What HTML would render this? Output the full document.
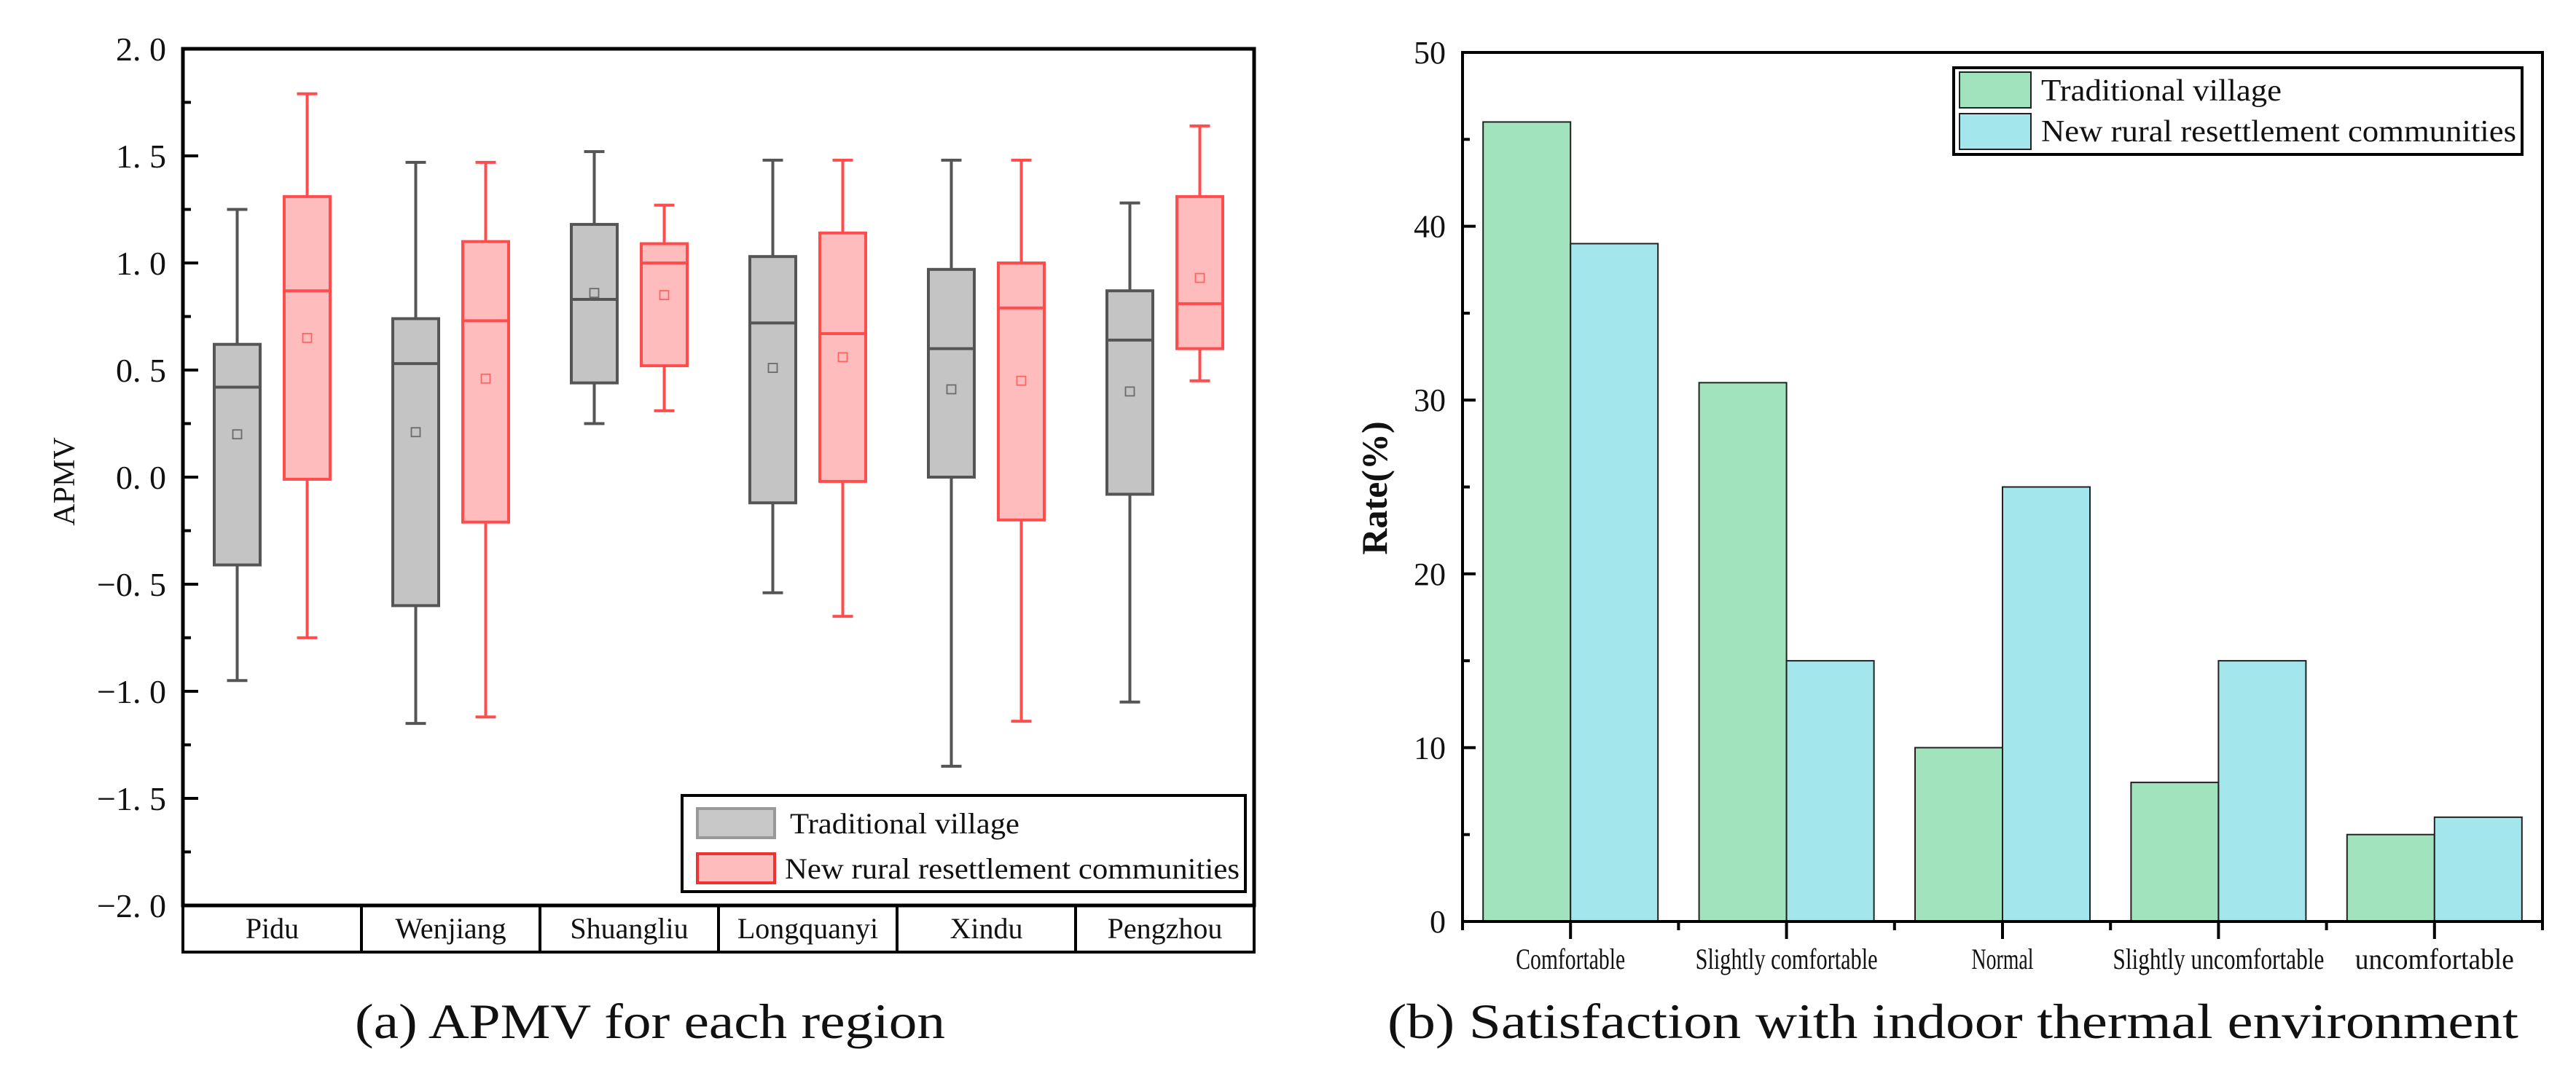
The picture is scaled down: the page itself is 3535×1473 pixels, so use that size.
<!DOCTYPE html>
<html><head><meta charset="utf-8"><style>
html,body{margin:0;padding:0;background:#fff;}
svg{display:block;}
text{font-family:"Liberation Serif","Noto Serif CJK SC",serif;fill:#111;}
</style></head><body>
<svg id="fig" width="3535" height="1473" viewBox="0 0 3535 1473" xmlns="http://www.w3.org/2000/svg">
<g id="left"></g>
<g id="right"></g>
<text x="892" y="1425" font-size="68" text-anchor="middle" textLength="810" lengthAdjust="spacingAndGlyphs">(a) APMV for each region</text>
<text x="2680" y="1425" font-size="68" text-anchor="middle" textLength="1552" lengthAdjust="spacingAndGlyphs">(b) Satisfaction with indoor thermal environment</text>
</svg>
<script>
// ---- Box plot data ----
const regions = ["Pidu","Wenjiang","Shuangliu","Longquanyi","Xindu","Pengzhou"];
const tradMax = [1.25,1.47,1.52,1.48,1.48,1.28];
const tradQ3 = [0.62,0.74,1.18,1.03,0.97,0.87];
const tradMed = [0.42,0.53,0.83,0.72,0.60,0.64];
const tradQ1 = [-0.41,-0.60,0.44,-0.12,0.00,-0.08];
const tradMin = [-0.95,-1.15,0.25,-0.54,-1.35,-1.05];
const tradMean = [0.20,0.21,0.86,0.51,0.41,0.40];
const newMax = [1.79,1.47,1.27,1.48,1.48,1.64];
const newQ3 = [1.31,1.10,1.09,1.14,1.00,1.31];
const newMed = [0.87,0.73,1.00,0.67,0.79,0.81];
const newQ1 = [-0.01,-0.21,0.52,-0.02,-0.20,0.60];
const newMin = [-0.75,-1.12,0.31,-0.65,-1.14,0.45];
const newMean = [0.65,0.46,0.85,0.56,0.45,0.93];
const apmvTicks = ["2. 0","1. 5","1. 0","0. 5","0. 0","−0. 5","−1. 0","−1. 5","−2. 0"];
const apmvTickVals = [2,1.5,1,0.5,0,-0.5,-1,-1.5,-2];
// ---- Bar data ----
const levels = ["Comfortable","Slightly comfortable","Normal","Slightly uncomfortable","uncomfortable"];
const tradRate = [46,31,10,8,5];
const newRate = [39,15,25,15,6];
const rateTicks = ["0","10","20","30","40","50"];
const rateTickVals = [0,10,20,30,40,50];

const NS="http://www.w3.org/2000/svg";
function mk(parent,tag,attrs,txt){const e=document.createElementNS(NS,tag);for(const k in attrs)e.setAttribute(k,attrs[k]);if(txt!==undefined)e.textContent=txt;parent.appendChild(e);return e;}

// ===== Left chart =====
const L=document.getElementById('left');
const lx0=251,lx1=1721,ly0=67,ly1=1243;
const yA=v=>ly0+(2-v)*(ly1-ly0)/4;
const catW=(lx1-lx0)/regions.length;
const cx=i=>lx0+catW*(i+0.5);
// y ticks
for(let v=-2;v<=2.001;v+=0.25){
  const major=Math.abs(v*2-Math.round(v*2))<1e-6;
  const t=mk(L,'line',{x1:lx0,x2:lx0+(major?21:11),y1:yA(v),y2:yA(v),stroke:'#000','stroke-width':4});
  
  
}
apmvTicks.forEach((s,i)=>{
  const t=mk(L,'text',{x:228,y:yA(apmvTickVals[i])+16,'font-size':46,'text-anchor':'end'},s);
  
  
});
const yt=mk(L,'text',{x:0,y:0,'font-size':42,'text-anchor':'middle',transform:'translate(102,661) rotate(-90)'},'APMV');


// boxes
function drawBox(i,off,mx,q3,md,q1,mn,mean,fill,stroke,nm){
  const g=mk(L,'g',{});
  
  
  const c=cx(i)+off,w=63,cw=28;
  mk(g,'line',{x1:c,x2:c,y1:yA(mx),y2:yA(q3),stroke:stroke,'stroke-width':4});
  mk(g,'line',{x1:c,x2:c,y1:yA(q1),y2:yA(mn),stroke:stroke,'stroke-width':4});
  mk(g,'line',{x1:c-cw/2,x2:c+cw/2,y1:yA(mx),y2:yA(mx),stroke:stroke,'stroke-width':4});
  mk(g,'line',{x1:c-cw/2,x2:c+cw/2,y1:yA(mn),y2:yA(mn),stroke:stroke,'stroke-width':4});
  mk(g,'rect',{x:c-w/2,y:yA(q3),width:w,height:yA(q1)-yA(q3),fill:fill,stroke:stroke,'stroke-width':4});
  mk(g,'line',{x1:c-w/2,x2:c+w/2,y1:yA(md),y2:yA(md),stroke:stroke,'stroke-width':4});
  mk(g,'rect',{x:c-6,y:yA(mean)-6,width:12,height:12,fill:'none',stroke:stroke,'stroke-width':1.8,opacity:0.8});
}
regions.forEach((r,i)=>{
  drawBox(i,-48,tradMax[i],tradQ3[i],tradMed[i],tradQ1[i],tradMin[i],tradMean[i],'#c4c4c4','#555','trad-box');
  drawBox(i,48,newMax[i],newQ3[i],newMed[i],newQ1[i],newMin[i],newMean[i],'#ffbcbc','#ff4d4d','new-box');
});
// frame
const fr=mk(L,'rect',{x:lx0,y:ly0,width:lx1-lx0,height:ly1-ly0,fill:'none',stroke:'#000','stroke-width':5});


// category row
const cr=mk(L,'rect',{x:lx0,y:ly1,width:lx1-lx0,height:64,fill:'none',stroke:'#000','stroke-width':4});


regions.forEach((r,i)=>{
  if(i>0){const d=mk(L,'line',{x1:lx0+catW*i,x2:lx0+catW*i,y1:ly1,y2:ly1+64,stroke:'#000','stroke-width':4});
    
    }
  const t=mk(L,'text',{x:cx(i),y:ly1+45,'font-size':40,'text-anchor':'middle'},r);
  
  
});
// legend
const lg=mk(L,'g',{});


mk(lg,'rect',{x:936,y:1092,width:773,height:132,fill:'#fff',stroke:'#000','stroke-width':4});
mk(lg,'rect',{x:957,y:1110,width:106,height:40,fill:'#c8c8c8',stroke:'#999','stroke-width':4});
mk(lg,'rect',{x:957,y:1172,width:106,height:40,fill:'#ffbcbc',stroke:'#ee3333','stroke-width':4});
mk(lg,'text',{x:1084,y:1144,'font-size':40,textLength:315,lengthAdjust:'spacingAndGlyphs'},'Traditional village');
mk(lg,'text',{x:1077,y:1206,'font-size':40,textLength:624,lengthAdjust:'spacingAndGlyphs'},'New rural resettlement communities');

// ===== Right chart =====
const R=document.getElementById('right');
const rx0=2007,rx1=3489,ry0=72,ry1=1265;
const yB=v=>ry1-v*(ry1-ry0)/50;
const gW=(rx1-rx0)/levels.length;
const bx=i=>rx0+gW*(i+0.5);
const bw=120;
levels.forEach((l,i)=>{
  const g=mk(R,'rect',{x:bx(i)-bw,y:yB(tradRate[i]),width:bw,height:yB(0)-yB(tradRate[i]),fill:'#a0e3bc',stroke:'#222','stroke-width':2});
  
  
  const b=mk(R,'rect',{x:bx(i),y:yB(newRate[i]),width:bw,height:yB(0)-yB(newRate[i]),fill:'#a3e6ec',stroke:'#222','stroke-width':2});
  
  
  const t=mk(R,'text',{x:bx(i),y:1330,'font-size':40,'text-anchor':'middle',textLength:(i==3?290:(i==1?250:(i==4?218:(i==2?85:150)))),lengthAdjust:'spacingAndGlyphs'},l);
  
  
});
// y ticks
for(let v=0;v<=50;v+=5){
  const major=v%10===0;
  const t=mk(R,'line',{x1:rx0,x2:rx0+(major?18:10),y1:yB(v),y2:yB(v),stroke:'#000','stroke-width':4});
  
  
}
rateTicks.forEach((s,i)=>{
  const t=mk(R,'text',{x:1984,y:yB(rateTickVals[i])+15,'font-size':44,'text-anchor':'end'},s);
  
  
});
// x ticks
for(let k=0;k<=levels.length*2;k++){
  const x=rx0+gW*k/2;const major=k%2===1;
  const t=mk(R,'line',{x1:x,x2:x,y1:ry1,y2:ry1+(major?24:12),stroke:'#000','stroke-width':4});
  
  
}
const rf=mk(R,'rect',{x:rx0,y:ry0,width:rx1-rx0,height:ry1-ry0,fill:'none',stroke:'#000','stroke-width':4});


const ryt=mk(R,'text',{x:0,y:0,'font-size':50,'font-weight':'bold','text-anchor':'middle',transform:'translate(1903,670) rotate(-90)'},'Rate(%)');


const lg2=mk(R,'g',{});


mk(lg2,'rect',{x:2681,y:93,width:780,height:119,fill:'#fff',stroke:'#000','stroke-width':4});
mk(lg2,'rect',{x:2689,y:99,width:98,height:49,fill:'#a0e3bc',stroke:'#222','stroke-width':2});
mk(lg2,'rect',{x:2689,y:156,width:98,height:49,fill:'#a3e6ec',stroke:'#222','stroke-width':2});
mk(lg2,'text',{x:2801,y:138,'font-size':42,textLength:330,lengthAdjust:'spacingAndGlyphs'},'Traditional village');
mk(lg2,'text',{x:2801,y:194,'font-size':42,textLength:652,lengthAdjust:'spacingAndGlyphs'},'New rural resettlement communities');
</script>
</body></html>
